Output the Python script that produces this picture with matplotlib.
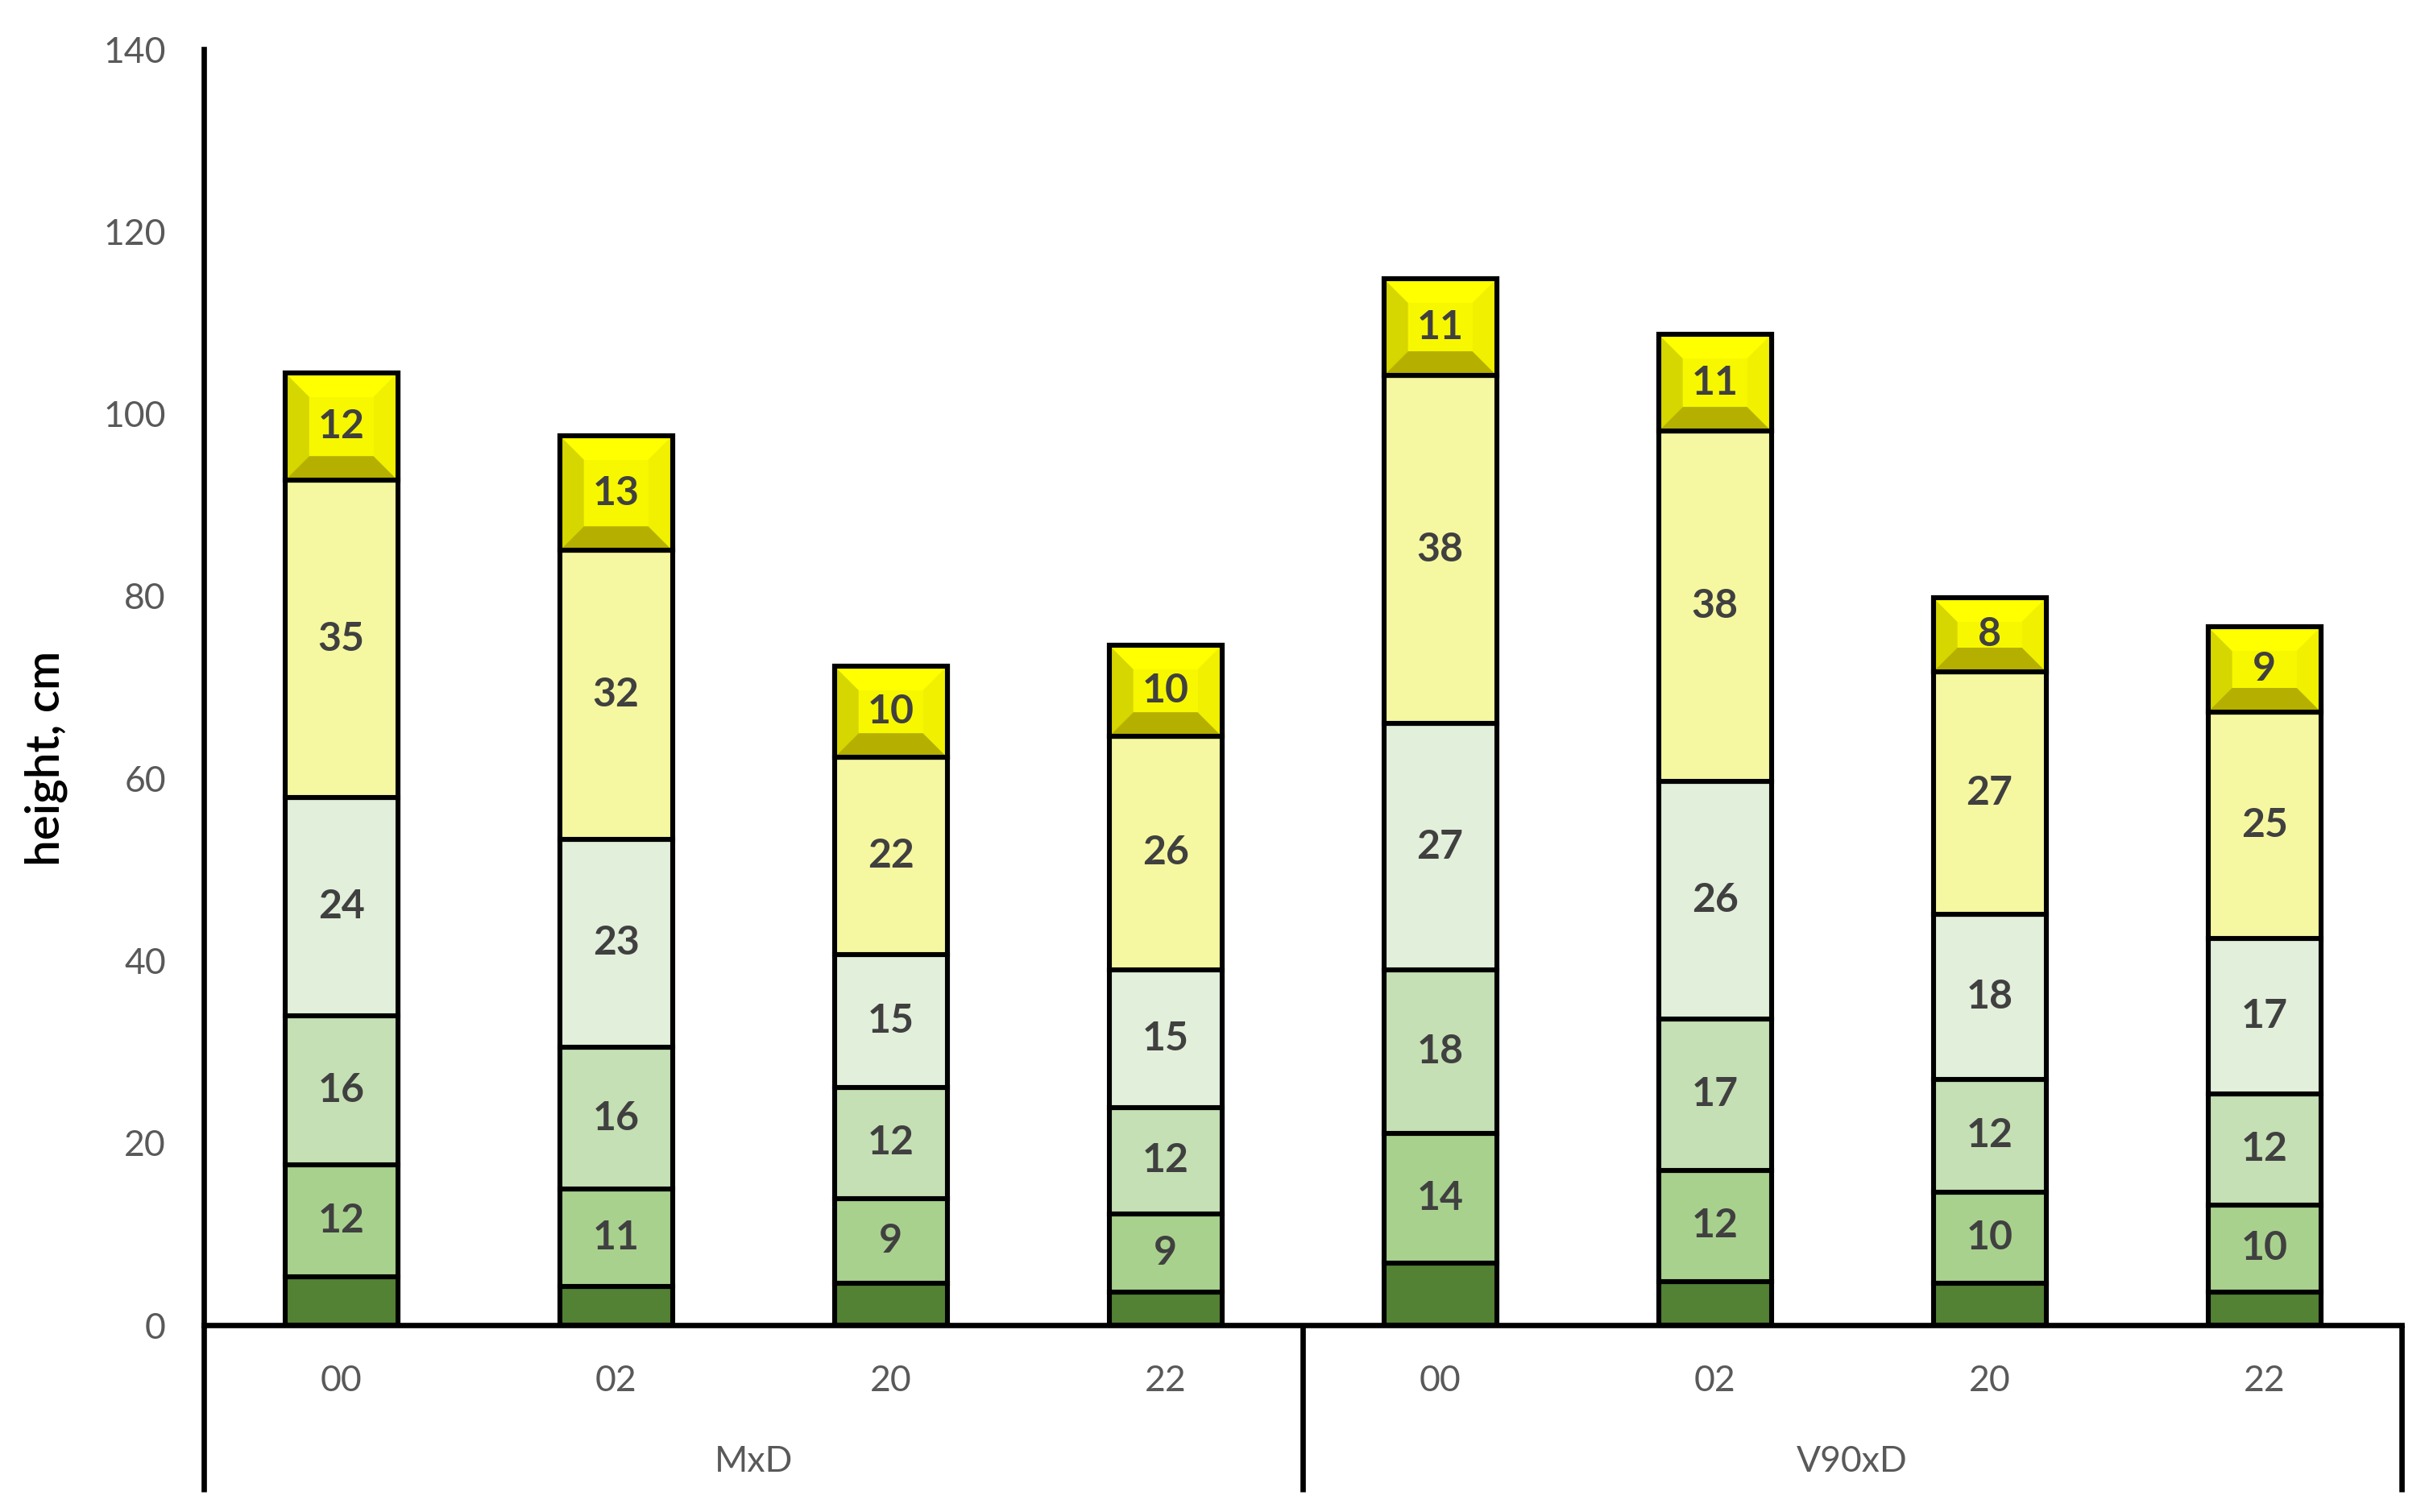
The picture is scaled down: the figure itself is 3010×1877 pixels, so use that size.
import matplotlib
matplotlib.use("Agg")
import matplotlib.pyplot as plt
from matplotlib.patches import Polygon
from matplotlib.transforms import blended_transform_factory

plt.rcParams['font.family'] = ['Lato', 'DejaVu Sans']

# data (cm)
groups = ["MxD", "V90xD"]
categories = ["00", "02", "20", "22", "00", "02", "20", "22"]
seg0 = [5.3, 4.2, 4.6, 3.6, 6.8, 4.8, 4.6, 3.6]          # unlabeled base
seg1 = [12.3, 10.7, 9.3, 8.6, 14.2, 12.2, 10.0, 9.6]
seg2 = [16.3, 15.6, 12.2, 11.7, 18.0, 16.6, 12.4, 12.2]
seg3 = [24.0, 22.8, 14.6, 15.1, 27.0, 26.1, 18.1, 17.0]
seg4 = [34.8, 31.7, 21.6, 25.6, 38.2, 38.4, 26.6, 24.9]
seg5 = [11.8, 12.6, 10.0, 10.0, 10.6, 10.6, 8.1, 9.3]     # bevelled top

series = [seg0, seg1, seg2, seg3, seg4, seg5]
colors = ['#548235', '#A9D18E', '#C5E0B4', '#E2EFDA', '#F5F8A0', '#FFFF00']
show_label = [False, True, True, True, True, True]

fig = plt.figure(figsize=(15.05, 9.385), dpi=200)
ax = fig.add_axes([0.0841, 0.1236, 0.9063, 0.8439])

x = list(range(len(categories)))
bottoms = [0.0] * len(categories)
width = 0.41
lw = 2.2
top_bars = None
for vals, col, lab in zip(series, colors, show_label):
    bars = ax.bar(x, vals, width, bottom=bottoms, color=col,
                  edgecolor='black', linewidth=lw, zorder=2)
    if lab:
        for b, v in zip(bars, vals):
            ax.text(b.get_x() + b.get_width() / 2, b.get_y() + b.get_height() / 2,
                    f"{round(v):d}", ha='center', va='center', fontsize=18,
                    fontweight='bold', color='#404040', zorder=5)
    bottoms = [bt + v for bt, v in zip(bottoms, vals)]
    top_bars = bars

# bevel on the top segment
dx, dy = 0.088, 2.65
for b in top_bars:
    x0, y0 = b.get_x(), b.get_y()
    x1, y1 = x0 + b.get_width(), y0 + b.get_height()
    ix0, ix1, iy0, iy1 = x0 + dx, x1 - dx, y0 + dy, y1 - dy
    faces = [
        ([(x0, y1), (x1, y1), (ix1, iy1), (ix0, iy1)], '#FFFF00'),
        ([(x0, y0), (x0, y1), (ix0, iy1), (ix0, iy0)], '#D6D600'),
        ([(x1, y0), (x1, y1), (ix1, iy1), (ix1, iy0)], '#F0F000'),
        ([(x0, y0), (x1, y0), (ix1, iy0), (ix0, iy0)], '#B5B000'),
        ([(ix0, iy0), (ix1, iy0), (ix1, iy1), (ix0, iy1)], '#F7F700'),
    ]
    for pts, c in faces:
        ax.add_patch(Polygon(pts, closed=True, facecolor=c, edgecolor='none', zorder=3))
    ax.add_patch(Polygon([(x0, y0), (x1, y0), (x1, y1), (x0, y1)], closed=True,
                         facecolor='none', edgecolor='black', linewidth=lw, zorder=4))

ax.set_xlim(-0.5, len(categories) - 0.5)
ax.set_ylim(0, 140)
ax.set_yticks(range(0, 141, 20))
ax.tick_params(axis='y', length=0, pad=17, labelsize=16, labelcolor='#595959')
ax.set_xticks([])
for s in ['top', 'right']:
    ax.spines[s].set_visible(False)
ax.spines['left'].set_linewidth(2.4)
ax.spines['bottom'].set_linewidth(2.4)
ax.set_ylabel("height, cm", fontsize=21, fontweight='semibold', color='black')
ax.yaxis.set_label_coords(-0.062, 0.444)

trans = blended_transform_factory(ax.transData, ax.transAxes)
for i, c in enumerate(categories):
    ax.text(i, -0.0436, c, transform=trans, ha='center', va='center',
            fontsize=16, color='#595959')
n_per = len(categories) // len(groups)
for g, name in enumerate(groups):
    ax.text(g * n_per + (n_per - 1) / 2, -0.1067, name, transform=trans,
            ha='center', va='center', fontsize=16, color='#595959')
for k in range(len(groups) + 1):
    xs = k * n_per - 0.5
    ax.plot([xs, xs], [0, -0.1307], transform=trans, color='black',
            linewidth=2.4, clip_on=False, solid_capstyle='butt')

fig.savefig("out.png", dpi=200)
